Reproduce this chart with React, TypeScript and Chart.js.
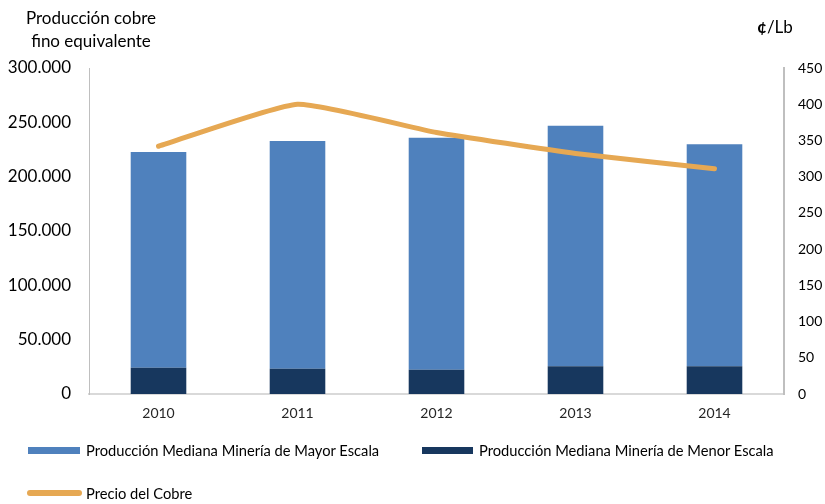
import React, { useEffect, useRef } from "react";
import { Chart, registerables } from "chart.js";

Chart.register(...registerables);

const years = ["2010", "2011", "2012", "2013", "2014"];
const menorEscala = [24200, 23300, 22400, 25500, 25500];
const mayorEscala = [198500, 209500, 213500, 221400, 204300];
const precioCobre = [342, 400, 361, 332, 311];

const leftTicksMax = 300000;
const rightTicksMax = 450;

const FONT = "Lato, 'Open Sans', sans-serif";

const colMayor = "#4F81BD";
const colMenor = "#17375E";
const colPrecio = "#E6A853";

function fmt(v: number): string {
  return Math.round(v)
    .toString()
    .replace(/\B(?=(\d{3})+(?!\d))/g, ".");
}

export default function App() {
  const ref = useRef<HTMLCanvasElement | null>(null);

  useEffect(() => {
    if (!ref.current) return;
    const chart = new Chart(ref.current, {
      type: "bar",
      data: {
        labels: years,
        datasets: [
          {
            type: "line",
            label: "Precio del Cobre",
            data: precioCobre,
            yAxisID: "y1",
            borderColor: colPrecio,
            backgroundColor: colPrecio,
            borderWidth: 5,
            borderCapStyle: "round",
            borderJoinStyle: "round",
            tension: 0.15,
            pointRadius: 0,
            order: 0,
          } as any,
          {
            label: "Producción Mediana Minería de Menor Escala",
            data: menorEscala,
            backgroundColor: colMenor,
            yAxisID: "y",
            stack: "s",
            barPercentage: 0.4,
            categoryPercentage: 1,
            order: 1,
          },
          {
            label: "Producción Mediana Minería de Mayor Escala",
            data: mayorEscala,
            backgroundColor: colMayor,
            yAxisID: "y",
            stack: "s",
            barPercentage: 0.4,
            categoryPercentage: 1,
            order: 1,
          },
        ],
      },
      options: {
        responsive: false,
        animation: false,
        layout: { padding: { top: 68, left: 0, right: 0, bottom: 0 } },
        plugins: {
          legend: { display: false },
          tooltip: { enabled: false },
        },
        scales: {
          x: {
            stacked: true,
            grid: { display: false, drawTicks: false },
            border: { display: true, color: "#D9D9D9", width: 2 },
            ticks: { color: "#262626", font: { family: FONT, size: 14 }, padding: 11 },
            afterFit: (s: any) => {
              s.height = 110;
            },
          },
          y: {
            position: "left",
            stacked: true,
            min: 0,
            max: leftTicksMax,
            grid: { display: false, drawTicks: false },
            border: { display: true, color: "#BFBFBF", width: 1 },
            ticks: {
              stepSize: 50000,
              color: "#000000",
              font: { family: FONT, size: 17 },
              padding: 18,
              callback: (v: any) => fmt(Number(v)),
            },
            afterFit: (s: any) => {
              s.width = 89;
            },
          },
          y1: {
            position: "right",
            stacked: false,
            min: 0,
            max: rightTicksMax,
            grid: { display: false, drawTicks: false },
            border: { display: true, color: "#BFBFBF", width: 2 },
            ticks: {
              stepSize: 50,
              color: "#000000",
              font: { family: FONT, size: 14 },
              padding: 14,
            },
            afterFit: (s: any) => {
              s.width = 41;
            },
          },
        },
      },
    });
    return () => chart.destroy();
  }, []);

  const legendText: React.CSSProperties = {
    position: "absolute",
    fontFamily: FONT,
    fontSize: 14.7,
    color: "#000",
    whiteSpace: "nowrap",
    lineHeight: "18px",
  };

  return (
    <div style={{ position: "absolute", left: 0, top: 0, width: 825, height: 504, background: "#fff" }}>
      <canvas ref={ref} width={825} height={504} style={{ display: "block" }} />
      <div
        style={{
          position: "absolute",
          left: 16,
          top: 6,
          width: 150,
          textAlign: "center",
          fontFamily: FONT,
          fontSize: 17,
          lineHeight: "23px",
          color: "#000",
        }}
      >
        Producción cobre
        <br />
        fino equivalente
      </div>
      <div
        style={{
          position: "absolute",
          left: 757,
          top: 16,
          fontFamily: FONT,
          fontSize: 17,
          lineHeight: "22px",
          color: "#000",
          whiteSpace: "nowrap",
        }}
      >
        <b>¢</b>/Lb
      </div>
      {/* Legend */}
      <div style={{ position: "absolute", left: 28, top: 447, width: 52, height: 7, background: colMayor }} />
      <div style={{ ...legendText, left: 86, top: 441 }}>Producción Mediana Minería de Mayor Escala</div>
      <div style={{ position: "absolute", left: 422, top: 447, width: 51, height: 7, background: colMenor }} />
      <div style={{ ...legendText, left: 479, top: 441 }}>Producción Mediana Minería de Menor Escala</div>
      <div
        style={{
          position: "absolute",
          left: 27,
          top: 490,
          width: 55,
          height: 6,
          borderRadius: 3,
          background: colPrecio,
        }}
      />
      <div style={{ ...legendText, left: 86, top: 484 }}>Precio del Cobre</div>
    </div>
  );
}
